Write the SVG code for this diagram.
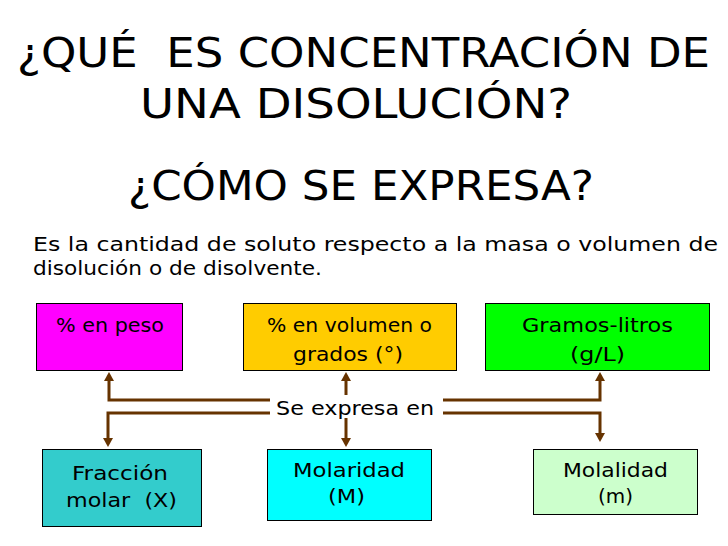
<svg xmlns="http://www.w3.org/2000/svg" width="728" height="546" viewBox="0 0 728 546">
  <defs>
    <style>
      text { font-family: "DejaVu Sans", "Liberation Sans", sans-serif; fill: #000; }
      .title { font-size: 41px; }
      .para { font-size: 19px; }
      .lbl { font-size: 19px; text-anchor: middle; }
      .box { stroke: #000; stroke-width: 1; }
      .conn { fill: none; stroke: #663300; stroke-width: 3; }
    </style>
    <marker id="arr" markerUnits="userSpaceOnUse" markerWidth="9" markerHeight="10" viewBox="0 0 9 10" refX="1" refY="5" orient="auto">
      <path d="M0,0 L9,5 L0,10 Z" fill="#663300"/>
    </marker>
  </defs>
  <rect width="728" height="546" fill="#fff"/>

  <g id="title">
    <text class="title" x="17" y="67" textLength="693" lengthAdjust="spacingAndGlyphs" xml:space="preserve">¿QUÉ  ES CONCENTRACIÓN DE</text>
    <text class="title" x="140" y="118" textLength="432" lengthAdjust="spacingAndGlyphs">UNA DISOLUCIÓN?</text>
    <text class="title" x="128" y="200" textLength="466" lengthAdjust="spacingAndGlyphs">¿CÓMO SE EXPRESA?</text>
  </g>

  <g id="definition">
    <text class="para" x="33" y="251" textLength="685" lengthAdjust="spacingAndGlyphs">Es la cantidad de soluto respecto a la masa o volumen de</text>
    <text class="para" x="33" y="275" textLength="289" lengthAdjust="spacingAndGlyphs">disolución o de disolvente.</text>
  </g>

  <g id="connectors">
    <path class="conn" d="M270,400 H109 V380" marker-end="url(#arr)"/>
    <path class="conn" d="M443,400 H600 V380" marker-end="url(#arr)"/>
    <path class="conn" d="M346,395 V380" marker-end="url(#arr)"/>
    <path class="conn" d="M270,413 H108 V439" marker-end="url(#arr)"/>
    <path class="conn" d="M346,418 V439" marker-end="url(#arr)"/>
    <path class="conn" d="M443,413 H600 V434" marker-end="url(#arr)"/>
    <text id="se-expresa" x="355" y="415" font-size="20" text-anchor="middle" textLength="158" lengthAdjust="spacingAndGlyphs">Se expresa en</text>
  </g>

  <g id="peso">
    <rect class="box" x="36.5" y="303.5" width="146" height="67" fill="#ff00ff"/>
    <text class="lbl" x="110" y="332" textLength="108" lengthAdjust="spacingAndGlyphs">% en peso</text>
  </g>

  <g id="volumen">
    <rect class="box" x="243.5" y="303.5" width="213" height="67" fill="#ffcc00"/>
    <text class="lbl" x="349.5" y="332" textLength="165" lengthAdjust="spacingAndGlyphs">% en volumen o</text>
    <text class="lbl" x="348" y="361" textLength="110" lengthAdjust="spacingAndGlyphs">grados (°)</text>
  </g>

  <g id="gramos-litros">
    <rect class="box" x="485.5" y="303.5" width="224" height="67" fill="#00ff00"/>
    <text class="lbl" x="597.5" y="332" textLength="151" lengthAdjust="spacingAndGlyphs">Gramos-litros</text>
    <text class="lbl" x="597.5" y="361" textLength="55" lengthAdjust="spacingAndGlyphs">(g/L)</text>
  </g>

  <g id="fraccion-molar">
    <rect class="box" x="42.5" y="449.5" width="159" height="77" fill="#33cccc"/>
    <text class="lbl" x="120" y="480" textLength="96" lengthAdjust="spacingAndGlyphs">Fracción</text>
    <text class="lbl" x="121.5" y="507" textLength="111" lengthAdjust="spacingAndGlyphs" xml:space="preserve">molar  (X)</text>
  </g>

  <g id="molaridad">
    <rect class="box" x="267.5" y="449.5" width="164" height="71" fill="#00ffff"/>
    <text class="lbl" x="349" y="477" textLength="112" lengthAdjust="spacingAndGlyphs">Molaridad</text>
    <text class="lbl" x="346.5" y="503" textLength="37" lengthAdjust="spacingAndGlyphs">(M)</text>
  </g>

  <g id="molalidad">
    <rect class="box" x="533.5" y="449.5" width="164" height="65" fill="#ccffcc"/>
    <text class="lbl" x="615.5" y="477" textLength="105" lengthAdjust="spacingAndGlyphs">Molalidad</text>
    <text class="lbl" x="615.5" y="503" textLength="35" lengthAdjust="spacingAndGlyphs">(m)</text>
  </g>
</svg>
